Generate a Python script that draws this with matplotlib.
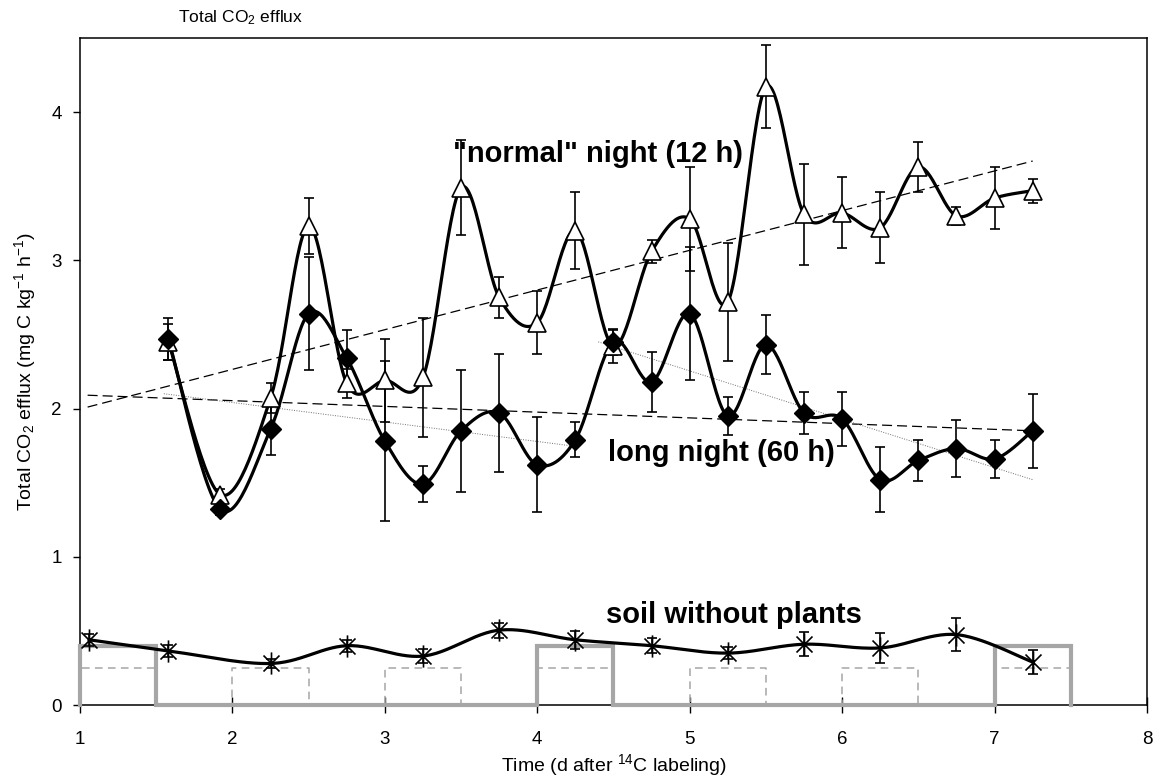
import numpy as np
import matplotlib
matplotlib.use("Agg")
import matplotlib.pyplot as plt
from matplotlib.path import Path

plt.rcParams['font.family'] = ['Liberation Sans', 'DejaVu Sans']
plt.rcParams['mathtext.fontset'] = 'custom'
plt.rcParams['mathtext.rm'] = 'Liberation Sans'
plt.rcParams['mathtext.it'] = 'Liberation Sans:italic'

# time of sampling (d after 14C labeling)
t_plant = [1.58, 1.92, 2.25, 2.5, 2.75, 3.0, 3.25, 3.5, 3.75, 4.0, 4.25, 4.5,
           4.75, 5.0, 5.25, 5.5, 5.75, 6.0, 6.25, 6.5, 6.75, 7.0, 7.25]
# "normal" night (12 h)
normal = [2.45, 1.42, 2.07, 3.23, 2.17, 2.19, 2.21, 3.49, 2.75, 2.58, 3.2, 2.42,
          3.06, 3.28, 2.72, 4.17, 3.31, 3.32, 3.22, 3.63, 3.3, 3.42, 3.47]
normal_err = [0.12, 0.04, 0.1, 0.19, 0.1, 0.28, 0.4, 0.32, 0.14, 0.21, 0.26, 0.11,
              0.08, 0.35, 0.4, 0.28, 0.34, 0.24, 0.24, 0.17, 0.06, 0.21, 0.08]
# long night (60 h)
longn = [2.47, 1.32, 1.86, 2.64, 2.34, 1.78, 1.49, 1.85, 1.97, 1.62, 1.79, 2.45,
         2.18, 2.64, 1.95, 2.43, 1.97, 1.93, 1.52, 1.65, 1.73, 1.66, 1.85]
longn_err = [0.14, 0.04, 0.17, 0.38, 0.19, 0.54, 0.12, 0.41, 0.4, 0.32, 0.12, 0.09,
             0.2, 0.45, 0.13, 0.2, 0.14, 0.18, 0.22, 0.14, 0.19, 0.13, 0.25]
# soil without plants
t_soil = [1.06, 1.58, 2.25, 2.75, 3.25, 3.75, 4.25, 4.75, 5.25, 5.75, 6.25, 6.75, 7.25]
soil = [0.44, 0.365, 0.28, 0.40, 0.33, 0.505, 0.44, 0.40, 0.35, 0.41, 0.385, 0.475, 0.29]
soil_err = [0.04, 0.04, 0.03, 0.04, 0.05, 0.05, 0.06, 0.05, 0.04, 0.08, 0.1, 0.11, 0.08]

# trend lines (end points)
trend_normal_x = [1.05, 7.25]
trend_normal_y = [2.01, 3.67]
trend_long_x = [1.05, 7.25]
trend_long_y = [2.09, 1.85]
trend_long1_x = [1.55, 4.25]
trend_long1_y = [2.10, 1.745]
trend_long2_x = [4.4, 7.25]
trend_long2_y = [2.45, 1.52]

# light periods
light_long = [(1.0, 1.5), (4.0, 4.5), (7.0, 7.5)]
light_normal = [(1.0, 1.5), (2.0, 2.5), (3.0, 3.5), (4.0, 4.5), (5.0, 5.5), (6.0, 6.5), (7.0, 7.5)]


def smooth(x, y, n=30):
    # bezier smoothing through points, like excel smoothed lines
    p = np.column_stack([x, y]).astype(float)
    out = []
    for i in range(len(p) - 1):
        p0 = p[i - 1] if i > 0 else p[i]
        p1 = p[i]
        p2 = p[i + 1]
        p3 = p[i + 2] if i + 2 < len(p) else p[i + 1]
        c1 = p1 + (p2 - p0) / 6.0
        c2 = p2 - (p3 - p1) / 6.0
        s = np.linspace(0, 1, n)[:, None]
        b = (1 - s) ** 3 * p1 + 3 * (1 - s) ** 2 * s * c1 + 3 * (1 - s) * s ** 2 * c2 + s ** 3 * p2
        out.append(b if i == 0 else b[1:])
    b = np.vstack(out)
    return b[:, 0], b[:, 1]


def steps(periods, h):
    xs, ys = [], []
    for a, b in periods:
        xs += [a, a, b, b]
        ys += [0, h, h, 0]
    return xs, ys


star = Path([(0, -1), (0, 1), (-0.72, -0.72), (0.72, 0.72), (-0.72, 0.72), (0.72, -0.72)],
            [Path.MOVETO, Path.LINETO] * 3)

fig = plt.figure(figsize=(11.55, 7.78), dpi=100)
ax = fig.add_axes([80 / 1155, 73 / 778, 1067 / 1155, 667 / 778])

# light / dark bars
xs, ys = steps(light_normal, 0.25)
ax.plot(xs, ys, color='#a6a6a6', lw=1.1, ls=(0, (5, 3.5)), zorder=2, clip_on=False)
xs, ys = steps(light_long, 0.4)
ax.plot(xs, ys, color='#a6a6a6', lw=3, zorder=2.6, clip_on=False, solid_joinstyle='miter')

# trend lines
ax.plot(trend_normal_x, trend_normal_y, color='black', lw=0.9, ls=(0, (8, 4)), zorder=3)
ax.plot(trend_long_x, trend_long_y, color='black', lw=0.9, ls=(0, (8, 4)), zorder=3)
ax.plot(trend_long1_x, trend_long1_y, color='#707070', lw=0.7, ls=(0, (1, 1.5)), zorder=3)
ax.plot(trend_long2_x, trend_long2_y, color='#707070', lw=0.7, ls=(0, (1, 1.5)), zorder=3)

# smoothed curves
for tx, ty in [(t_plant, normal), (t_plant, longn), (t_soil, soil)]:
    sx, sy = smooth(tx, ty)
    ax.plot(sx, sy, color='black', lw=2.3, zorder=4)

ax.errorbar(t_plant, normal, yerr=normal_err, fmt='none', ecolor='black',
            elinewidth=1.2, capsize=3.6, capthick=1.2, zorder=4)
ax.errorbar(t_plant, longn, yerr=longn_err, fmt='none', ecolor='black',
            elinewidth=1.2, capsize=3.6, capthick=1.2, zorder=4)
ax.errorbar(t_soil, soil, yerr=soil_err, fmt='none', ecolor='black',
            elinewidth=1.2, capsize=3.6, capthick=1.2, zorder=4)

ax.plot(t_plant, normal, ls='none', marker='^', ms=12.5, mfc='white', mec='black', mew=1.2, zorder=5)
ax.plot(t_plant, longn, ls='none', marker='D', ms=10, mfc='black', mec='black', zorder=5)
ax.plot(t_soil, soil, ls='none', marker=star, ms=16, mfc='none', mec='black', mew=1.2, zorder=5)

ax.text(4.40, 3.72, '"normal" night (12 h)', fontsize=21, fontweight='bold', ha='center', va='center', zorder=6)
ax.text(5.21, 1.70, 'long night (60 h)', fontsize=21, fontweight='bold', ha='center', va='center', zorder=6)
ax.text(5.29, 0.61, 'soil without plants', fontsize=21, fontweight='bold', ha='center', va='center', zorder=6)

ax.set_xlim(1, 8)
ax.set_ylim(0, 4.5)
ax.set_xticks(range(1, 9))
ax.set_yticks(range(0, 5))
ax.tick_params(axis='x', direction='inout', length=12, width=1, pad=13, labelsize=13.5)
ax.tick_params(axis='y', direction='out', length=5, width=1, pad=8, labelsize=13.5)
for s in ax.spines.values():
    s.set_linewidth(1.1)

ax.set_xlabel('Time (d after $^{14}$C labeling)', fontsize=14, va='center')
ax.xaxis.set_label_coords(0.5, (705 - 765) / 667)
ax.set_ylabel('Total CO$_2$ efflux (mg C kg$^{-1}$ h$^{-1}$)', fontsize=14, va='center')
ax.yaxis.set_label_coords((25 - 80) / 1067, 0.5)

fig.text(241 / 1155, 1 - 18 / 778, 'Total CO$_2$ efflux', fontsize=12.5, ha='center', va='center')

fig.savefig('out.png', dpi=100)
